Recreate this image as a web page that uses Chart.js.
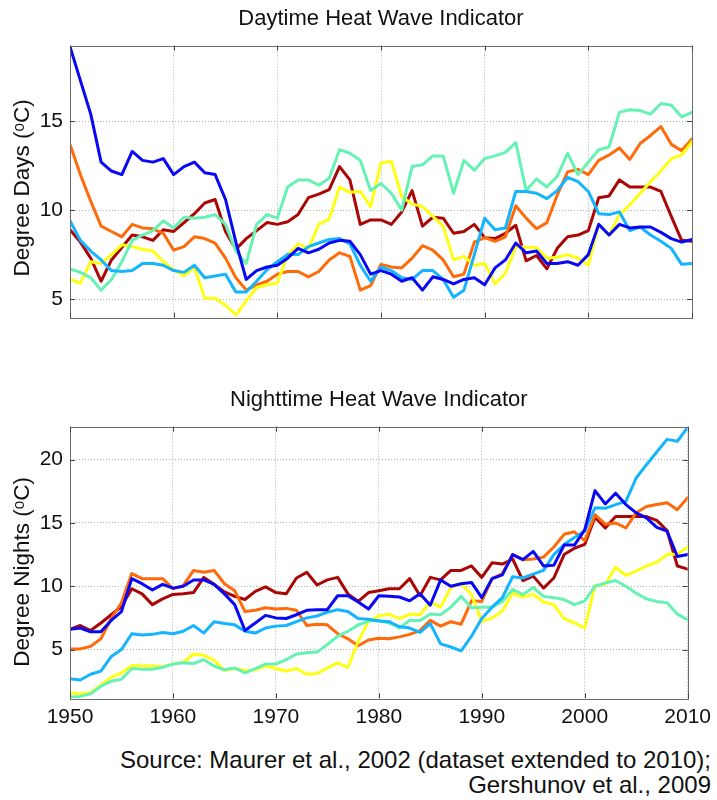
<!DOCTYPE html>
<html><head><meta charset="utf-8">
<script src="https://cdn.jsdelivr.net/npm/chart.js@4"></script>
<style>
html,body{margin:0;padding:0;background:#fff;}
body{width:717px;height:800px;position:relative;overflow:hidden;font-family:"Liberation Sans",Arial,sans-serif;}
#w1{position:absolute;left:0;top:0;width:717px;height:348px;}
#w2{position:absolute;left:0;top:381px;width:717px;height:360px;}
#src{position:absolute;right:6px;top:747px;text-align:right;font-size:24px;line-height:25px;color:#111;white-space:nowrap;}
</style></head><body>
<div id="w1"><canvas id="c1"></canvas></div>
<div id="w2"><canvas id="c2"></canvas></div>
<div id="src">Source: Maurer et al., 2002 (dataset extended to 2010);<br>Gershunov et al., 2009</div>
<script>
// ---- categories ----
const years = [1950,1951,1952,1953,1954,1955,1956,1957,1958,1959,
  1960,1961,1962,1963,1964,1965,1966,1967,1968,1969,
  1970,1971,1972,1973,1974,1975,1976,1977,1978,1979,
  1980,1981,1982,1983,1984,1985,1986,1987,1988,1989,
  1990,1991,1992,1993,1994,1995,1996,1997,1998,1999,
  2000,2001,2002,2003,2004,2005,2006,2007,2008,2009,2010];

// ---- tick labels ----
const xTicks = [1950,1960,1970,1980,1990,2000,2010];
const dayYTicks = [5,10,15];
const nightYTicks = [5,10,15,20];

// ---- Daytime heat wave indicator (degree days) ----
const dayBlue = [19.2,17.3,15.4,12.7,12.2,12.0,13.3,12.8,12.7,12.9,
  12.0,12.45,12.7,12.1,12.0,10.6,8.2,6.1,6.6,6.8,
  6.9,7.3,7.85,7.6,7.8,8.15,8.3,8.25,7.5,6.4,
  6.6,6.4,6.0,6.2,5.5,6.25,6.1,5.85,6.1,6.2,
  5.8,6.75,7.2,8.15,7.6,7.7,7.0,7.0,7.1,6.9,
  7.5,9.2,8.6,9.2,9.0,9.05,9.05,8.75,8.4,8.2,8.35];
const dayCyan = [9.4,8.3,7.7,7.2,6.6,6.55,6.6,7.0,7.0,6.9,
  6.6,6.5,6.9,6.2,6.3,6.4,5.4,5.4,6.0,6.65,
  7.1,7.5,7.5,7.95,8.15,8.35,8.4,8.1,6.9,6.0,
  6.8,6.6,6.2,6.1,6.6,6.6,6.1,5.1,5.5,7.5,
  9.55,8.9,9.0,11.05,11.05,10.95,10.65,11.1,11.85,11.6,
  11.05,9.8,9.75,9.9,8.85,9.05,8.6,8.25,7.85,6.95,7.0];
const dayAqua = [6.7,6.5,6.2,5.5,6.1,7.1,8.3,8.6,8.85,9.4,
  9.0,9.6,9.55,9.6,9.75,9.2,7.7,7.0,9.2,9.75,
  9.55,11.3,11.7,11.7,11.4,11.8,13.4,13.2,12.8,11.1,
  11.5,10.95,10.0,12.45,12.55,13.05,13.05,10.95,12.8,12.25,
  12.9,13.05,13.25,13.8,11.1,11.75,11.3,11.9,13.2,12.0,
  12.7,13.4,13.55,15.5,15.65,15.6,15.4,16.0,15.9,15.25,15.5];
const dayYellow = [6.1,5.9,7.1,7.0,7.5,8.05,7.95,7.8,7.7,7.1,
  6.65,6.3,6.8,5.05,5.05,4.65,4.1,4.9,5.65,5.8,
  5.9,7.5,8.1,7.85,9.2,9.5,11.3,11.0,11.05,10.2,
  12.65,12.75,10.75,10.35,10.2,9.65,9.1,7.2,7.4,6.9,
  7.0,5.85,6.45,7.95,7.9,7.9,7.3,7.35,7.5,7.3,
  6.9,9.2,8.6,9.75,10.3,10.95,11.6,12.2,12.9,13.1,13.85];
const dayOrange = [13.7,12.0,10.5,9.1,8.8,8.5,9.2,9.0,8.95,8.7,
  7.75,7.95,8.5,8.4,8.15,7.3,6.2,5.5,5.8,6.0,
  6.4,6.55,6.55,6.25,6.55,7.2,7.6,7.4,5.5,5.75,
  6.95,6.8,6.75,7.3,8.0,7.75,7.2,6.25,6.4,8.2,
  8.45,8.25,8.5,10.25,9.55,8.95,9.3,10.85,12.15,12.3,
  12.0,12.8,13.1,13.5,12.85,13.75,14.2,14.7,13.7,13.35,14.0];
const dayDarkRed = [8.9,8.2,7.3,6.0,7.2,7.9,8.6,8.5,8.3,8.9,
  8.8,9.3,9.8,10.4,10.6,8.8,7.8,8.4,8.85,9.3,
  9.2,9.35,9.75,10.7,10.9,11.15,12.45,11.7,9.2,9.45,
  9.45,9.2,9.9,11.1,9.1,9.6,9.55,8.7,8.8,9.2,
  8.45,8.4,8.7,9.15,7.15,7.45,6.7,7.85,8.5,8.6,
  8.85,10.7,10.8,11.7,11.3,11.3,11.3,11.05,9.65,8.3,8.25];

// ---- Nighttime heat wave indicator (degree nights) ----
const nightBlue = [6.6,6.7,6.4,6.4,7.3,8.0,10.6,10.2,9.7,10.15,
  9.85,10.0,10.5,10.5,10.15,9.4,8.55,6.5,7.1,7.7,
  7.5,7.45,7.75,8.1,8.15,8.15,9.25,9.25,8.75,8.2,
  9.25,9.2,9.15,8.85,9.4,8.5,10.5,10.0,10.2,10.3,
  9.1,10.6,10.9,12.5,12.1,12.75,11.6,11.65,13.25,13.25,
  14.45,17.55,16.5,17.35,16.45,15.8,15.4,14.65,14.35,12.35,12.5];
const nightCyan = [2.7,2.6,3.05,3.3,4.45,5.0,6.25,6.15,6.2,6.35,
  6.25,6.45,6.9,6.3,7.2,7.05,6.95,6.45,6.3,6.7,
  6.85,6.9,7.2,7.5,7.65,7.95,8.15,8.0,7.45,7.4,
  7.25,7.2,6.8,6.7,6.35,7.05,5.45,5.2,4.9,6.05,
  7.45,8.35,9.1,10.75,10.65,10.95,11.25,12.5,13.3,13.85,
  14.35,16.2,16.15,16.45,16.7,18.55,19.6,20.6,21.6,21.45,22.55];
const nightAqua = [1.25,1.3,1.5,2.1,2.5,2.65,3.5,3.45,3.45,3.6,
  3.85,3.95,3.9,4.2,3.7,3.4,3.55,3.15,3.5,3.85,
  3.85,4.2,4.65,4.75,4.8,5.4,6.05,6.45,6.95,7.25,
  7.3,7.1,6.7,7.3,7.3,7.8,7.75,8.35,9.2,8.3,
  8.35,8.35,8.8,9.75,9.35,9.9,9.2,9.1,8.95,8.55,
  8.85,10.0,10.25,10.45,10.0,9.45,9.0,8.8,8.7,7.8,7.35];
const nightYellow = [1.6,1.5,1.6,2.2,2.8,3.15,3.75,3.7,3.7,3.65,
  3.85,4.0,4.65,4.55,4.15,3.35,3.5,3.35,3.4,3.7,
  3.5,3.3,3.5,3.05,3.1,3.55,3.95,3.6,5.65,7.25,
  7.65,7.8,7.45,7.8,7.75,8.75,8.35,9.9,10.2,9.35,
  7.2,7.5,8.05,9.45,9.15,9.35,8.75,8.55,7.45,7.1,
  6.7,10.05,10.15,11.5,10.85,11.2,11.6,11.9,12.5,12.55,13.1];
const nightOrange = [5.05,5.05,5.25,5.85,7.45,8.7,11.0,10.6,10.6,10.6,
  9.8,10.05,11.25,11.1,11.25,10.2,9.65,8.0,8.1,8.3,
  8.2,8.25,8.1,6.9,7.0,6.95,6.25,5.85,5.3,5.75,
  5.9,5.85,6.0,6.2,6.5,7.3,6.85,7.2,7.0,8.85,
  8.8,10.6,11.0,12.5,12.1,12.15,12.3,13.1,14.1,14.3,
  13.6,15.65,14.9,15.0,14.6,15.8,16.3,16.45,16.6,16.05,17.0];
const nightDarkRed = [6.6,6.9,6.5,7.1,7.75,8.4,9.8,9.4,8.55,9.0,
  9.35,9.4,9.5,10.7,10.15,9.55,9.2,8.95,9.6,9.95,
  9.5,9.4,10.65,11.1,10.1,10.5,10.7,9.4,8.8,9.5,
  9.65,9.8,9.8,10.6,9.25,10.7,10.5,11.25,11.25,11.6,
  10.7,11.85,11.75,12.15,10.45,10.8,9.85,10.65,12.5,13.0,
  13.3,15.45,14.6,15.5,15.5,15.5,15.5,15.2,14.4,11.6,11.35];

const colors = ['#0808f5','#14b4ff','#66f2b4','#ffff14','#ff6a0a','#aa0606'];
const FONT = '"Liberation Sans", Arial, sans-serif';

function pts(vals){ return years.map((y,i)=>({x:y,y:vals[i]})); }
function sets(list){
  return list.map((v,i)=>({data:pts(v), borderColor:colors[i], borderWidth:3,
    pointRadius:0, tension:0, fill:false, borderJoinStyle:'round', borderCapStyle:'round'}));
}

const framePlugin = {
  id:'frame',
  afterDatasetsDraw(chart){
    const {ctx, chartArea:a, scales} = chart;
    ctx.save();
    ctx.setLineDash([]);
    ctx.strokeStyle = '#6e6e6e';
    ctx.lineWidth = 1;
    ctx.strokeRect(Math.round(a.left)+0.5, Math.round(a.top)+0.5,
      Math.round(a.right-a.left), Math.round(a.bottom-a.top));
    ctx.strokeStyle = '#444';
    const L = 5;
    scales.x.ticks.forEach(t=>{
      const px = Math.round(scales.x.getPixelForValue(t.value))+0.5;
      ctx.beginPath();
      ctx.moveTo(px,a.bottom); ctx.lineTo(px,a.bottom-L);
      ctx.moveTo(px,a.top); ctx.lineTo(px,a.top+L);
      ctx.stroke();
    });
    scales.y.ticks.forEach(t=>{
      const py = Math.round(scales.y.getPixelForValue(t.value))+0.5;
      ctx.beginPath();
      ctx.moveTo(a.left,py); ctx.lineTo(a.left+L,py);
      ctx.moveTo(a.right,py); ctx.lineTo(a.right-L,py);
      ctx.stroke();
    });
    ctx.restore();
  }
};

function makeChart(id, title, yTitle, yMin, yMax, yTicks, series, showX){
  return new Chart(document.getElementById(id), {
    type:'line',
    data:{datasets:sets(series)},
    plugins:[framePlugin],
    options:{
      responsive:true, maintainAspectRatio:false, animation:false,
      layout:{padding:{left:0,right:25,top:0,bottom: showX ? 2.7 : 0}},
      plugins:{
        legend:{display:false}, tooltip:{enabled:false},
        title:{display:true, text:title, color:'#111', fullSize:false,
          font:{family:FONT,size:22,weight:'normal'}, padding:{top:6,bottom:13.3}}
      },
      scales:{
        x:{type:'linear', min:1950, max:2010,
          afterBuildTicks:s=>{ s.ticks = xTicks.map(v=>({value:v})); },
          afterFit:s=>{ s.height = showX ? 40 : 30.3; },
          grid:{display:true, color:'#b4b4b4', lineWidth:1, drawTicks:false},
          border:{display:false, dash:[1,2]},
          ticks:{display:showX, color:'#111', padding:6, maxRotation:0,
            font:{family:FONT,size:21}, callback:v=>String(v)}
        },
        y:{type:'linear', min:yMin, max:yMax,
          afterBuildTicks:s=>{ s.ticks = yTicks.map(v=>({value:v})); },
          afterFit:s=>{ s.width = 70; },
          grid:{display:true, color:'#b4b4b4', lineWidth:1, drawTicks:false},
          border:{display:false, dash:[1,2]},
          ticks:{color:'#111', padding:7, font:{family:FONT,size:21}, callback:v=>String(v)},
          title:{display:true, text:yTitle, color:'#111',
            font:{family:FONT,size:22.5}, padding:{top:9,bottom:0}}
        }
      }
    }
  });
}

makeChart('c1','Daytime Heat Wave Indicator','Degree Days (\u1D52C)\u00A0\u00A0',3.95,19.25,dayYTicks,
  [dayBlue,dayCyan,dayAqua,dayYellow,dayOrange,dayDarkRed], false);
makeChart('c2','Nighttime Heat Wave Indicator','Degree Nights (\u1D52C)\u00A0\u00A0\u00A0',1.15,22.6,nightYTicks,
  [nightBlue,nightCyan,nightAqua,nightYellow,nightOrange,nightDarkRed], true);
</script>
</body></html>
